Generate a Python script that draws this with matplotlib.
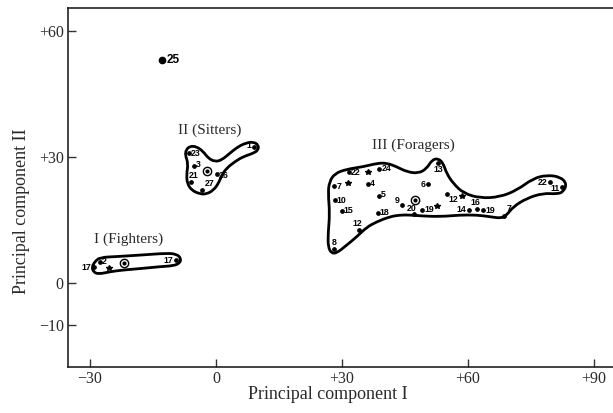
import numpy as np
import matplotlib
matplotlib.use("Agg")
import matplotlib.pyplot as plt
from matplotlib.path import Path
from matplotlib.patches import PathPatch

# --- data (principal component units) ---
# outlier
x25, y25 = [-12.8], [53.1]

# I (Fighters)
fx = [-29.0, -27.5, -9.4]
fy = [3.7, 4.9, 5.4]
flab = ["17", "2", "17"]
f_star_x, f_star_y = [-25.5], [3.6]
f_cen = (-21.9, 4.8)
f_out_x = [-28.8, -27.6, -23.6, -17.3, -11.7, -9.4, -8.3, -8.6, -10.2, -13.3,
           -17.3, -22.1, -25.2, -28.0, -29.2, -29.5]
f_out_y = [5.1, 6.1, 6.3, 6.7, 7.1, 6.9, 5.9, 4.7, 4.1, 3.9,
           3.5, 3.1, 2.7, 2.1, 2.7, 3.9]

# II (Sitters)
sx = [-6.4, -5.2, 0.2, -5.9, -3.4, 9.0]
sy = [30.9, 27.9, 26.0, 24.1, 22.1, 32.5]
slab = ["23", "3", "26", "21", "27", "1"]
s_cen = (-2.1, 26.7)
s_out_x = [-7.1, -6.2, -4.6, -3.0, -1.8, -0.2, 1.4, 3.3, 5.3, 7.3, 8.9, 10.1,
           10.1, 8.9, 6.5, 4.5, 2.5, 1.4, 0.6, -0.6, -2.2, -3.8, -5.8, -6.8,
           -7.0, -6.6, -7.3]
s_out_y = [31.7, 32.6, 32.5, 31.3, 29.7, 28.9, 29.3, 30.9, 32.5, 33.4, 33.6, 32.9,
           31.7, 30.9, 30.1, 28.9, 27.3, 25.7, 23.7, 22.1, 21.2, 21.2, 22.1, 23.7,
           25.7, 28.5, 30.5]

# III (Foragers)
gx = [31.6, 38.9, 52.9, 28.2, 36.2, 50.5, 38.7, 44.4, 47.2, 49.1, 54.9, 60.3,
      62.1, 63.6, 68.6, 79.5, 82.3, 28.3, 29.9, 38.5, 34.0, 28.2]
gy = [26.4, 27.2, 28.6, 23.1, 23.6, 23.5, 20.8, 18.5, 16.4, 17.4, 21.2, 17.5,
      17.6, 17.3, 16.0, 24.0, 22.9, 19.7, 17.2, 16.7, 12.6, 8.2]
glab = ["22", "24", "13", "7", "4", "6", "5", "9", "20", "19", "12", "14",
        "16", "19", "7", "22", "11", "10", "15", "18", "12", "8"]
g_star_x = [36.3, 31.4, 52.5, 58.5]
g_star_y = [26.4, 23.9, 18.4, 20.8]
g_cen = (47.4, 19.8)
g_out_x = [27.5, 26.7, 26.7, 27.1, 26.7, 27.0, 28.3, 31.1, 35.1, 38.3, 40.6, 43.0,
           45.4, 48.2, 50.2, 51.4, 52.9, 54.1, 54.9, 56.5, 58.9, 62.9, 67.6, 71.6,
           75.5, 78.7, 81.9, 83.5, 82.7, 81.1, 77.9, 74.0, 70.8, 69.2, 68.0, 65.2,
           62.1, 58.1, 53.3, 48.6, 46.2, 43.8, 41.4, 38.3, 35.9, 33.5, 31.1, 28.7]
g_out_y = [7.1, 8.6, 11.8, 16.6, 21.4, 24.1, 26.1, 27.1, 27.7, 28.5, 28.6, 27.7,
           26.5, 26.1, 27.3, 29.3, 29.7, 28.5, 26.1, 23.7, 21.4, 20.2, 20.5, 22.1,
           24.9, 25.7, 25.3, 23.7, 21.7, 21.2, 21.4, 20.2, 18.2, 16.2, 15.4, 15.8,
           16.2, 16.2, 15.8, 16.0, 16.2, 16.2, 15.8, 14.6, 13.3, 11.0, 9.0, 7.1]

groups = ["I (Fighters)", "II (Sitters)", "III (Foragers)"]
group_x = [-20.9, -1.4, 46.9]
group_y = [10.4, 36.3, 32.9]

xticks = [-30, 0, 30, 60, 90]
xticklabels = ["\u221230", "0", "+30", "+60", "+90"]
yticks = [-10, 0, 30, 60]
yticklabels = ["\u221210", "0", "+30", "+60"]

# label placement (offset points, ha, va) for each numbered dot
f_pos = [((-2, 0), "right", "center"), ((1, 1), "left", "center"), ((-2, 0), "right", "center")]
s_pos = [((1.5, 0), "left", "center"), ((1.5, 1), "left", "center"), ((1.5, -1.5), "left", "center"),
         ((1.5, 1.5), "center", "bottom"), ((2, 1.5), "left", "bottom"), ((-2, 0.5), "right", "center")]
g_pos = [((1.5, 0), "left", "center"), ((1.5, 0), "left", "center"), ((0, -1.5), "center", "top"),
         ((1.5, 0), "left", "center"), ((1.5, 0), "left", "center"), ((-2, 0), "right", "center"),
         ((1.5, 0.5), "left", "center"), ((-2, 0.5), "right", "bottom"), ((-2, 1), "center", "bottom"),
         ((1.5, 0), "left", "center"), ((1.5, -0.5), "left", "top"), ((-2, 0), "right", "center"),
         ((-1, 1.5), "center", "bottom"), ((1.5, 0), "left", "center"), ((2, 2), "left", "bottom"),
         ((-2, 0), "right", "center"), ((-1.5, -1.5), "right", "center"), ((1.5, 0), "left", "center"),
         ((1.5, 0), "left", "center"), ((1.5, 0), "left", "center"), ((-1, 1.5), "center", "bottom"),
         ((0, 1.5), "center", "bottom")]

SERIF = "Liberation Serif"
SANS = "Liberation Sans"
GREY = "#2a2a2a"


def outline(ax, xs, ys):
    # closed smooth loop: vertices as control points, midpoints on the curve
    p = np.column_stack([xs, ys])
    mid = (p + np.roll(p, -1, axis=0)) / 2
    verts = [mid[-1]]
    codes = [Path.MOVETO]
    for i in range(len(p)):
        verts += [p[i], mid[i]]
        codes += [Path.CURVE3, Path.CURVE3]
    ax.add_patch(PathPatch(Path(verts, codes), fill=False, lw=2.0,
                           ec="black", joinstyle="round", zorder=2))


def dots(ax, xs, ys, labels, pos):
    ax.plot(xs, ys, "o", color="black", ms=2.4, zorder=3)
    for x, y, t, (off, ha, va) in zip(xs, ys, labels, pos):
        ax.annotate(t, (x, y), xytext=off, textcoords="offset points",
                    ha=ha, va=va, fontsize=6.3, fontweight="bold",
                    family=SANS, color="black", zorder=4)


def centre(ax, c):
    ax.plot([c[0]], [c[1]], "o", mfc="white", mec="black", mew=1.0, ms=6, zorder=3)
    ax.plot([c[0]], [c[1]], "o", color="black", ms=2, zorder=4)


fig = plt.figure(figsize=(6.13, 4.13), dpi=100)
ax = fig.add_axes([68 / 613, 46 / 413, 545 / 613, 359 / 413])

outline(ax, f_out_x, f_out_y)
outline(ax, s_out_x, s_out_y)
outline(ax, g_out_x, g_out_y)

dots(ax, fx, fy, flab, f_pos)
dots(ax, sx, sy, slab, s_pos)
dots(ax, gx, gy, glab, g_pos)

ax.plot(f_star_x + g_star_x, f_star_y + g_star_y, "*", color="black", ms=4, zorder=3)
for c in (f_cen, s_cen, g_cen):
    centre(ax, c)

ax.plot(x25, y25, "o", color="black", ms=4.5, zorder=3)
ax.annotate("25", (x25[0], y25[0]), xytext=(3, 0), textcoords="offset points",
            ha="left", va="center", fontsize=8.5, fontweight="bold", family=SANS)

for t, x, y in zip(groups, group_x, group_y):
    ax.text(x, y, t, ha="center", va="center", fontsize=11, family=SERIF, color=GREY)

ax.set_xlim(-35.2, 94.5)
ax.set_ylim(-20, 65.5)
ax.set_xticks(xticks)
ax.set_xticklabels(xticklabels, family=SERIF, fontsize=11.5, color=GREY)
ax.set_yticks(yticks)
ax.set_yticklabels(yticklabels, family=SERIF, fontsize=11.5, color=GREY)
ax.tick_params(axis="x", direction="in", length=6, width=1, pad=3, colors="#333333",
               labelcolor=GREY)
ax.tick_params(axis="y", direction="in", length=6, width=1, pad=3, colors="#333333",
               labelcolor=GREY)

for s in ("left", "bottom", "top"):
    ax.spines[s].set_linewidth(1.2)
    ax.spines[s].set_color("#222222")
ax.spines["right"].set_visible(False)

ax.set_xlabel("Principal component I", family=SERIF, fontsize=13, color=GREY)
ax.xaxis.set_label_coords(0.477, -0.088)
ax.xaxis.label.set_va("baseline")
ax.set_ylabel("Principal component II", family=SERIF, fontsize=13, color=GREY)
ax.yaxis.set_label_coords(-0.086, 0.435)
ax.yaxis.label.set_va("center")

fig.savefig("out.png", dpi=100)
